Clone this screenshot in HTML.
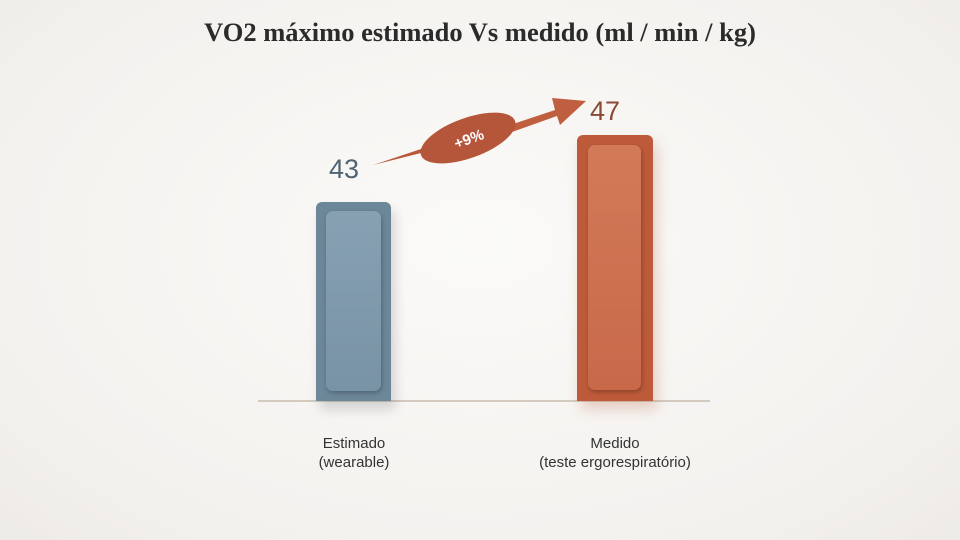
<!DOCTYPE html>
<html><head><meta charset="utf-8"><style>
body{margin:0;width:960px;height:540px;overflow:hidden;background:radial-gradient(ellipse at 50% 45%,#fbfaf8 0%,#f4f2ef 70%,#eeebe7 100%);font-family:"Liberation Sans",sans-serif;position:relative}
.t{position:absolute;left:0;width:960px;top:17px;text-align:center;font-family:"Liberation Serif",serif;font-weight:bold;font-size:26.5px;color:#2b2b2b}
.bar{position:absolute;border-radius:6px 6px 0 0}
.in{position:absolute;border-radius:7px}
.v{position:absolute;font-size:27px}
.l{position:absolute;font-size:15px;color:#333;text-align:center;line-height:19px}
</style></head><body>
<div class="t">VO2 máximo estimado Vs medido (ml / min / kg)</div>
<div style="position:absolute;left:258px;top:400px;width:452px;height:2px;background:#d3cbc0"></div>
<div class="bar" style="left:316px;top:202px;width:75px;height:199px;background:#6c8798;box-shadow:4px 8px 12px rgba(0,0,0,.15)"></div>
<div class="in" style="left:326px;top:211px;width:55px;height:180px;background:linear-gradient(#87a1b3,#7893a5);box-shadow:1px 2px 4px rgba(0,0,0,.25)"></div>
<div class="bar" style="left:577px;top:135px;width:76px;height:266px;background:#bd5a3a;box-shadow:4px 8px 14px rgba(180,80,50,.25)"></div>
<div class="in" style="left:588px;top:145px;width:53px;height:245px;background:linear-gradient(#d27a58,#c8694a);box-shadow:1px 2px 4px rgba(0,0,0,.25)"></div>
<div class="v" style="left:329px;top:154px;color:#4f6474">43</div>
<div class="v" style="left:590px;top:96px;color:#8a4a35">47</div>
<svg style="position:absolute;left:0;top:0" width="960" height="540">
<path d="M373,165 L430,146 L425,152 Z" fill="#b9583a"/>
<path d="M510,125 L555,110 L552,98 L586,101 L560,125 L557,116 L512,132 Z" fill="#bf5f3f"/>
<ellipse cx="468" cy="138" rx="50" ry="20" transform="rotate(-20 468 138)" fill="#b5553a"/>
<text x="469" y="144" font-family="Liberation Sans" font-weight="bold" font-size="15" fill="#fff" text-anchor="middle" transform="rotate(-20 469 139)">+9%</text>
</svg>
<div class="l" style="left:254px;top:434px;width:200px">Estimado<br>(wearable)</div>
<div class="l" style="left:515px;top:434px;width:200px">Medido<br>(teste ergorespiratório)</div>
</body></html>
